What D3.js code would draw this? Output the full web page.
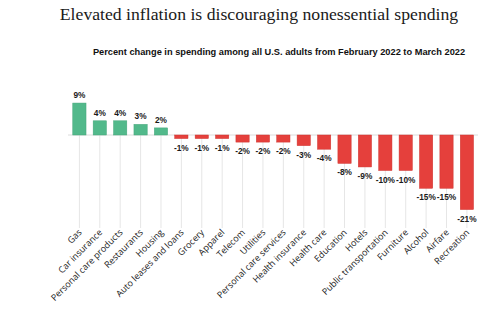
<!DOCTYPE html>
<html lang="en">
<head>
    <meta charset="UTF-8">
    <title>Nonessential spending</title>
    <script src="https://d3js.org/d3.v7.min.js"></script>
    <style>
        body { margin: 0; background: #fff; }
    </style>
</head>
<body>
    <svg id="chart" width="504" height="325"></svg>
    <script>
        // percent change, Feb 2022 -> Mar 2022
        const categories = ["Gas", "Car insurance", "Personal care products", "Restaurants", "Housing",
            "Auto leases and loans", "Grocery", "Apparel", "Telecom", "Utilities",
            "Personal care services", "Health insurance", "Health care", "Education", "Hotels",
            "Public transportation", "Furniture", "Alcohol", "Airfare", "Recreation"];
        const values = [9, 4, 4, 3, 2, -1, -1, -1, -2, -2, -2, -3, -4, -8, -9, -10, -10, -15, -15, -21];

        const svg = d3.select("#chart");

        svg.append("text")
            .attr("x", 259).attr("y", 20)
            .attr("text-anchor", "middle")
            .style("font-family", "'Liberation Serif', serif")
            .style("font-size", "17.7px")
            .style("fill", "#1a1a1a")
            .text("Elevated inflation is discouraging nonessential spending");

        svg.append("text")
            .attr("x", 279).attr("y", 55)
            .attr("text-anchor", "middle")
            .style("font-family", "'Liberation Sans', Arial, sans-serif")
            .style("font-size", "9.25px")
            .style("font-weight", "bold")
            .style("fill", "#111")
            .text("Percent change in spending among all U.S. adults from February 2022 to March 2022");

        const x = d3.scaleBand().domain(categories).range([69.3, 477]).paddingInner(0.35).paddingOuter(0.17);
        const y = d3.scaleLinear().domain([0, 21]).range([135, 135 - 21 * 3.55]);

        // vertical guide lines
        svg.append("g").selectAll("line")
            .data(categories)
            .enter().append("line")
            .attr("x1", d => x(d) + x.bandwidth() / 2)
            .attr("x2", d => x(d) + x.bandwidth() / 2)
            .attr("y1", 135).attr("y2", 228)
            .attr("stroke", "#e6e6e6").attr("stroke-width", 1);

        // zero line
        svg.append("line")
            .attr("x1", 68).attr("x2", 478)
            .attr("y1", y(0)).attr("y2", y(0))
            .attr("stroke", "#dcdcdc").attr("stroke-width", 1);

        svg.append("g").selectAll("rect")
            .data(values)
            .enter().append("rect")
            .attr("x", (d, i) => x(categories[i]))
            .attr("width", x.bandwidth())
            .attr("y", d => d >= 0 ? y(d) : y(0))
            .attr("height", d => Math.abs(y(d) - y(0)))
            .attr("fill", d => d >= 0 ? "#52b98b" : "#e5403c")
            .attr("stroke", d => d >= 0 ? "#45a57a" : "#cf3430")
            .attr("stroke-width", 0.5);

        svg.append("g").selectAll("text")
            .data(values)
            .enter().append("text")
            .attr("x", (d, i) => x(categories[i]) + x.bandwidth() / 2)
            .attr("y", d => d >= 0 ? y(d) - 5 : y(d) + 12)
            .attr("text-anchor", "middle")
            .style("font-family", "'Liberation Sans', Arial, sans-serif")
            .style("font-size", "8.3px")
            .style("font-weight", "bold")
            .style("fill", "#1a1a1a")
            .text(d => d + "%");

        // rotated category labels
        svg.append("g").selectAll("text")
            .data(categories)
            .enter().append("text")
            .attr("transform", d => `translate(${x(d) + x.bandwidth() / 2 + 3},${233}) rotate(-45)`)
            .attr("text-anchor", "end")
            .style("font-family", "'Open Sans', sans-serif")
            .style("font-size", "9px")
            .style("fill", "#222")
            .text(d => d);
    </script>
</body>
</html>
